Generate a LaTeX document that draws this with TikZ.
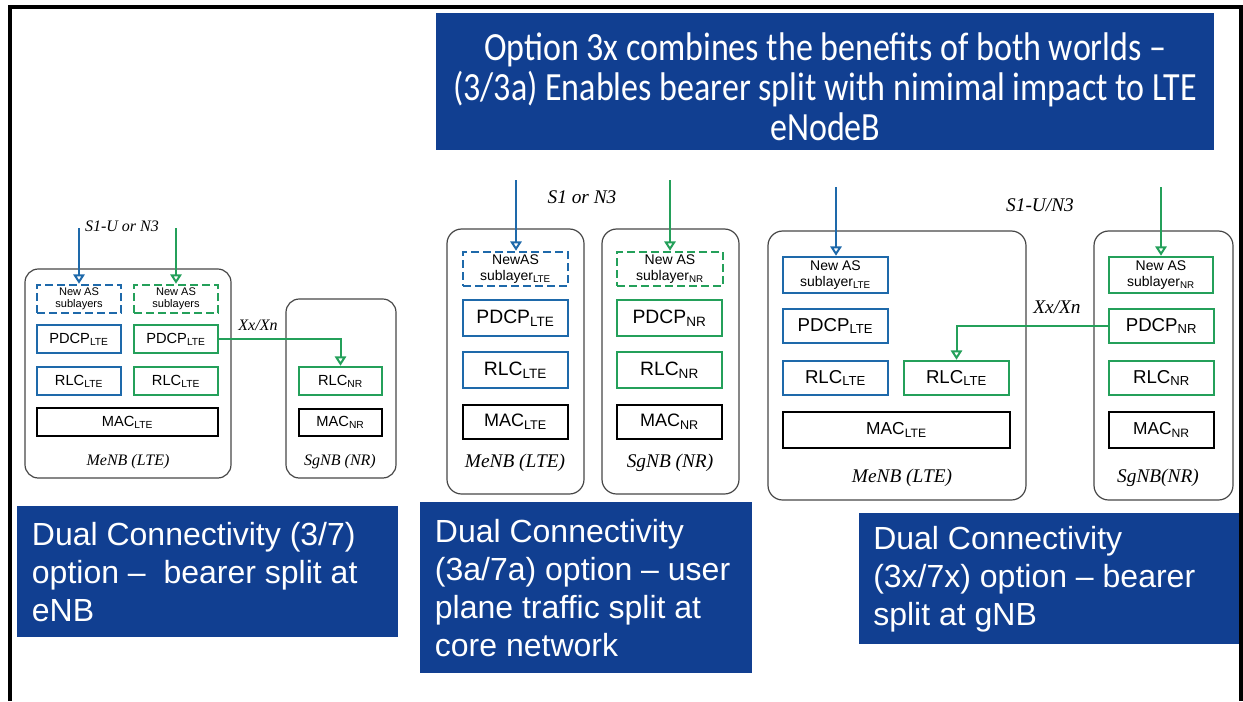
\documentclass[tikz,border=0pt]{standalone}
\usepackage{fontspec}
\setmainfont{Liberation Sans}
\newfontfamily\tmsfont{Liberation Serif}
\newfontfamily\calfont[FakeStretch=0.85]{Carlito}
\usetikzlibrary{arrows.meta,fit}
\definecolor{lyblue}{RGB}{30,105,170}
\definecolor{lygreen}{RGB}{36,160,90}
\definecolor{bannerblue}{RGB}{17,63,145}
\definecolor{framegray}{RGB}{70,70,70}
\newcommand{\sbx}[1]{\textsubscript{#1}}
\begin{document}
\begin{tikzpicture}[x=0.75pt,y=-0.75pt,
  enbbox/.style={draw=framegray,line width=0.9pt,rounded corners=10pt,inner sep=0pt},
  layer/.style={draw=#1,line width=1.9pt,inner sep=0pt,align=center},
  dlayer/.style={layer=#1,dash pattern=on 6pt off 3pt},
  sz/.style 2 args={minimum width=#1*0.75pt,minimum height=#2*0.75pt},
  conn/.style={draw=#1,line width=1.5pt,-{Triangle[open,width=8.5pt,length=7pt]}},
  fsA/.style={font=\fontsize{11}{12}\selectfont},
  fsAs/.style={font=\fontsize{8.3}{8.8}\selectfont},
  fsB/.style={font=\fontsize{14.5}{16}\selectfont},
  fsBm/.style={font=\fontsize{13.5}{15}\selectfont},
  fsBs/.style={font=\fontsize{10.5}{11.5}\selectfont},
  fsC/.style={font=\fontsize{14}{16}\selectfont},
  fsCm/.style={font=\fontsize{13}{15}\selectfont},
  lblA/.style={font=\tmsfont\itshape\fontsize{12}{14}\selectfont,inner sep=0pt},
  lblB/.style={font=\tmsfont\itshape\fontsize{14.5}{16}\selectfont,inner sep=0pt},
  notebox/.style={fill=bannerblue,inner sep=0pt,anchor=north west},
  notetext/.style={text=white,align=left,inner sep=0pt,anchor=west,font=\fontsize{24}{28.5}\selectfont}
]
\useasboundingbox (0,0) rectangle (1243,701);
% outer frame (open at the bottom)
\draw[line width=3pt] (9.5,701) -- (9.5,6.5) -- (1240.5,6.5) -- (1240.5,701);

% banner
\node[notebox,minimum width=583.5pt,minimum height=102.75pt] (banner) at (436,13) {};
\node[text=white,align=center,inner sep=0pt,font=\calfont\fontsize{30}{30}\selectfont]
  (bannertext) at ([yshift=-4pt]banner.center)
  {Option 3x combines the benefits of both worlds –\\(3/3a) Enables bearer split with nimimal impact to LTE\\eNodeB};

% ---------- left diagram ----------
\node[enbbox,fit={(25,269)(231,478)}] (m1) {};
\node[enbbox,fit={(286,299)(396,478)}] (s1) {};
\node[dlayer=lyblue,fsAs,sz={84}{28}] (m1ab) at (79,299) {New AS\\sublayers};
\node[dlayer=lygreen,fsAs,sz={84}{28}] (m1ag) at (176,299) {New AS\\sublayers};
\node[layer=lyblue,fsA,sz={84}{28}] (m1pb) at (79,339) {PDCP\sbx{LTE}};
\node[layer=lygreen,fsA,sz={84}{28}] (m1pg) at (176,339) {PDCP\sbx{LTE}};
\node[layer=lyblue,fsA,sz={84}{28}] (m1rb) at (79,381) {RLC\sbx{LTE}};
\node[layer=lygreen,fsA,sz={84}{28}] (m1rg) at (176,381) {RLC\sbx{LTE}};
\node[layer=black,fsA,sz={181}{28}] (m1mac) at (127.5,422) {MAC\sbx{LTE}};
\node[lblA] (m1lbl) at (128,462) {MeNB (LTE)};
\node[layer=lygreen,fsA,sz={83}{28}] (s1r) at (340.5,381) {RLC\sbx{NR}};
\node[layer=black,fsA,sz={83}{27}] (s1mac) at (340.5,422.5) {MAC\sbx{NR}};
\node[lblA] (s1lbl) at (340,462) {SgNB (NR)};
\coordinate (c1b) at (79,228);
\coordinate (c1g) at (176,228);
\draw[conn=lyblue] (c1b) -- (c1b |- m1ab.north);
\draw[conn=lygreen] (c1g) -- (c1g |- m1ag.north);
\node[lblA] (c1lbl) at (122,226) {S1-U or N3};
\draw[conn=lygreen] (m1pg.east) -- (m1pg.east -| s1r.north) -- (s1r.north);
\node[lblA] (x1lbl) at (258,325) {Xx/Xn};

% ---------- middle diagram ----------
\node[enbbox,rounded corners=11pt,fit={(447,229)(584,494)}] (m2) {};
\node[enbbox,rounded corners=11pt,fit={(602,229)(739,494)}] (s2) {};
\node[dlayer=lyblue,fsBs,sz={105}{34}] (m2a) at (515.5,269) {NewAS\\sublayer\sbx{LTE}};
\node[layer=lyblue,fsB,sz={105}{36}] (m2p) at (515.5,318) {PDCP\sbx{LTE}};
\node[layer=lyblue,fsB,sz={105}{36}] (m2r) at (515.5,370) {RLC\sbx{LTE}};
\node[layer=black,fsBm,sz={105}{34}] (m2mac) at (515.5,422) {MAC\sbx{LTE}};
\node[lblB] (m2lbl) at (515,463) {MeNB (LTE)};
\node[dlayer=lygreen,fsBs,sz={106}{34}] (s2a) at (670,269) {New AS\\sublayer\sbx{NR}};
\node[layer=lygreen,fsB,sz={105}{36}] (s2p) at (669.5,318) {PDCP\sbx{NR}};
\node[layer=lygreen,fsB,sz={105}{36}] (s2r) at (669.5,370) {RLC\sbx{NR}};
\node[layer=black,fsBm,sz={105}{34}] (s2mac) at (669.5,422) {MAC\sbx{NR}};
\node[lblB] (s2lbl) at (670,463) {SgNB (NR)};
\coordinate (c2b) at (516,180);
\coordinate (c2g) at (670,180);
\draw[conn=lyblue] (c2b) -- (c2b |- m2a.north);
\draw[conn=lygreen] (c2g) -- (c2g |- s2a.north);
\node[lblB] (c2lbl) at (582,197) {S1 or N3};

% ---------- right diagram ----------
\node[enbbox,rounded corners=11pt,fit={(768,231)(1026,500)}] (m3) {};
\node[enbbox,rounded corners=11pt,fit={(1094,231)(1233,500)}] (s3) {};
\node[layer=lyblue,fsBs,sz={105}{36}] (m3a) at (835.5,275) {New AS\\sublayer\sbx{LTE}};
\node[layer=lyblue,fsC,sz={105}{34}] (m3p) at (835.5,326) {PDCP\sbx{LTE}};
\node[layer=lyblue,fsC,sz={105}{34}] (m3rb) at (835.5,378) {RLC\sbx{LTE}};
\node[layer=lygreen,fsC,sz={105}{34}] (m3rg) at (956.5,378) {RLC\sbx{LTE}};
\node[layer=black,fsCm,sz={227}{36}] (m3mac) at (896.5,430) {MAC\sbx{LTE}};
\node[lblB] (m3lbl) at (902,478) {MeNB (LTE)};
\node[layer=lygreen,fsBs,sz={104}{36}] (s3a) at (1161,275) {New AS\\sublayer\sbx{NR}};
\node[layer=lygreen,fsC,sz={105}{34}] (s3p) at (1161.5,326) {PDCP\sbx{NR}};
\node[layer=lygreen,fsC,sz={105}{34}] (s3r) at (1161.5,378) {RLC\sbx{NR}};
\node[layer=black,fsCm,sz={105}{36}] (s3mac) at (1161.5,430) {MAC\sbx{NR}};
\node[lblB] (s3lbl) at (1158,478) {SgNB(NR)};
\coordinate (c3b) at (836,187);
\coordinate (c3g) at (1161,187);
\draw[conn=lyblue] (c3b) -- (c3b |- m3a.north);
\draw[conn=lygreen] (c3g) -- (c3g |- s3a.north);
\node[lblB] (c3lbl) at (1040,205) {S1-U/N3};
\draw[conn=lygreen] (s3p.west) -- (s3p.west -| m3rg.north) -- (m3rg.north);
\node[lblB] (x3lbl) at (1057,307) {Xx/Xn};

% ---------- description boxes ----------
\node[notebox,minimum width=285.75pt,minimum height=98.25pt] (d1) at (17,506) {};
\node[notetext] (d1t) at ([xshift=11pt]d1.west) {Dual Connectivity (3/7)\\option –\ \ bearer split at\\eNB};
\node[notebox,minimum width=249pt,minimum height=128.25pt] (d2) at (420,502) {};
\node[notetext] (d2t) at ([xshift=11pt]d2.west) {Dual Connectivity\\(3a/7a) option – user\\plane traffic split at\\core network};
\node[notebox,minimum width=285pt,minimum height=98.25pt] (d3) at (859,513) {};
\node[notetext] (d3t) at ([xshift=10.5pt]d3.west) {Dual Connectivity\\(3x/7x) option – bearer\\split at gNB};
\end{tikzpicture}
\end{document}
